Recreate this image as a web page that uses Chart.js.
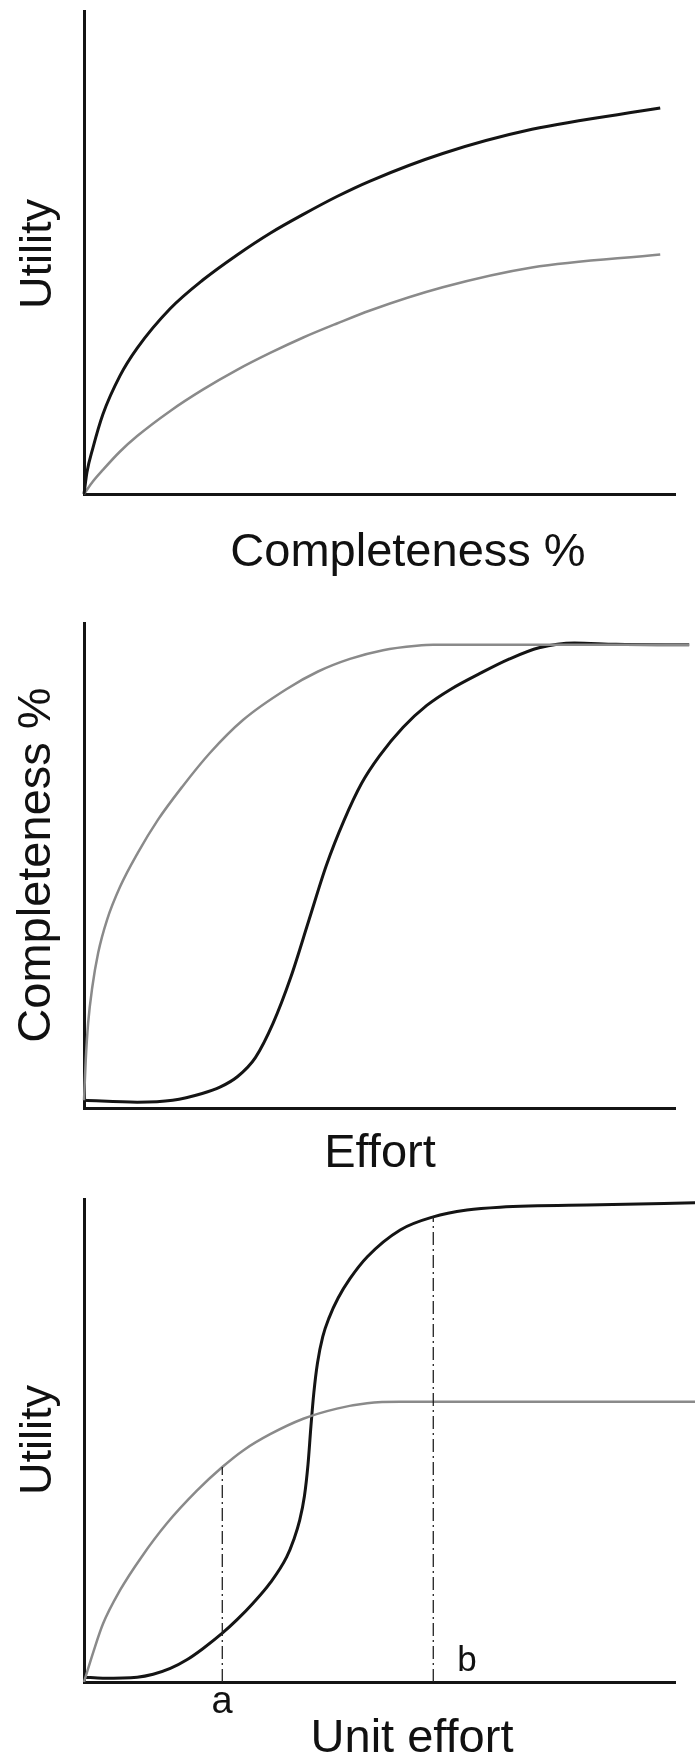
<!DOCTYPE html>
<html>
<head>
<meta charset="utf-8">
<script src="https://cdn.jsdelivr.net/npm/chart.js@4/dist/chart.umd.min.js"></script>
<style>
  html, body { margin: 0; padding: 0; background: #fff; }
  body { width: 695px; height: 1762px; position: relative; overflow: hidden; }
  canvas { position: absolute; left: 0; }
</style>
</head>
<body>
<canvas id="c1" width="695" height="590" style="top:0px"></canvas>
<canvas id="c2" width="695" height="590" style="top:590px"></canvas>
<canvas id="c3" width="695" height="582" style="top:1180px"></canvas>
<script>
// ---- Text ----
const axisTitles = ['Utility', 'Completeness %', 'Effort', 'Unit effort'];
const markerLabels = ['a', 'b'];

// ---- Panel 1: Utility vs Completeness % ----
const p1HighX = [0, 0.5, 1.5, 3.2, 6.1, 9.0, 14.6, 20.1, 25.9, 31.5, 37.1, 42.8, 48.4, 60.7, 75.8, 97.5];
const p1High  = [0, 4.5, 9.5, 16.5, 24.5, 30.2, 38.4, 44.3, 49.5, 54.0, 57.9, 61.6, 64.8, 70.5, 75.5, 79.9];
const p1LowX  = [0, 1.5, 3.2, 6.1, 9.0, 14.6, 20.1, 25.9, 31.5, 37.1, 42.8, 48.4, 60.7, 75.8, 97.5];
const p1Low   = [0, 2.6, 5.0, 8.8, 12.0, 17.2, 21.6, 25.7, 29.2, 32.4, 35.3, 38.0, 42.8, 46.9, 49.6];

// ---- Panel 2: Completeness % vs Effort ----
const p2LowX  = [0, 0.3, 0.7, 1.4, 2.4, 3.9, 6.1, 9.1, 12.5, 16.6, 21.3, 26.9, 34.3, 39.6, 45.0, 50.6, 56.3, 59.1, 102.4];
const p2Low   = [1.6, 10, 17.5, 24.9, 32.0, 38.8, 45.6, 52.6, 59.4, 66.2, 73.2, 80.0, 86.4, 90.0, 92.6, 94.4, 95.3, 95.5, 95.5];
const p2HighX = [0, 9, 15, 20, 23, 26, 29, 32, 35, 38, 41, 44, 47, 50, 54, 58, 62, 67, 72, 77, 83, 90, 102.4];
const p2High  = [1.6, 1.2, 1.6, 3.0, 4.3, 6.5, 10.4, 17.5, 27.0, 38.5, 50.0, 59.3, 67.0, 72.6, 78.5, 83.0, 86.3, 89.6, 92.6, 94.9, 95.9, 95.6, 95.5];

// ---- Panel 3: Utility vs Unit effort ----
const p3HighX = [0, 3.2, 9.0, 11.7, 14.6, 17.4, 20.1, 23.4, 25.9, 28.6, 31.5, 34.3, 35.5, 36.5, 37.3, 37.9, 38.4, 38.9, 39.5, 40.4, 41.5, 43.0, 45.0, 47.9, 53.5, 59.1, 64.8, 70.4, 87.3, 103.4];
const p3High  = [1.0, 0.8, 1.0, 1.6, 2.8, 4.6, 6.9, 10.1, 12.9, 16.3, 20.5, 25.9, 29.5, 33.5, 38.5, 45.0, 53.0, 60.0, 66.0, 71.5, 75.5, 79.5, 83.5, 88.0, 93.6, 96.3, 97.7, 98.3, 98.8, 99.2];
const p3LowX  = [0, 1.6, 3.2, 6.1, 9.8, 14.0, 19.1, 23.4, 27.0, 31.5, 37.1, 42.8, 47.9, 53.5, 103.4];
const p3Low   = [0, 6.3, 12.0, 19.0, 26.0, 32.8, 39.6, 44.5, 48.0, 51.3, 54.5, 56.6, 57.7, 58.0, 58.0];
const markA = [23.4, 44.5];   // x, top y of dashed line "a"
const markB = [59.1, 96.3];   // x, top y of dashed line "b"

// ---- helpers ----
const BLACK = '#141414';
const GRAY = '#8a8a8a';
const FONT = '"Liberation Sans", Arial, Helvetica, sans-serif';

function pts(xs, ys) { return xs.map((x, i) => ({ x: x, y: ys[i] })); }

function curve(xs, ys, color, width) {
  return {
    data: pts(xs, ys), borderColor: color, borderWidth: width,
    pointRadius: 0, cubicInterpolationMode: 'monotone', clip: false, fill: false
  };
}
function dropLine(m) {
  return {
    data: [{ x: m[0], y: 0 }, { x: m[0], y: m[1] }],
    borderColor: '#222', borderWidth: 1.3, borderDash: [13, 4, 2, 4],
    pointRadius: 0, tension: 0, clip: false, fill: false
  };
}
function textPlugin(labels) {
  return {
    id: 'txt',
    afterDraw(chart) {
      const ctx = chart.ctx;
      labels.forEach(l => {
        ctx.save();
        ctx.font = l.size + 'px ' + FONT;
        ctx.fillStyle = '#111';
        ctx.textAlign = 'center';
        ctx.textBaseline = 'alphabetic';
        ctx.translate(l.x, l.y);
        if (l.rot) ctx.rotate(-Math.PI / 2);
        ctx.fillText(l.text, 0, 0);
        ctx.restore();
      });
    }
  };
}
function axis() {
  return {
    type: 'linear', min: 0, max: 100,
    ticks: { display: false },
    grid: { display: false, drawTicks: false },
    border: { display: true, color: BLACK, width: 3 }
  };
}
function makeChart(id, datasets, padding, labels) {
  return new Chart(document.getElementById(id), {
    type: 'line',
    data: { datasets: datasets },
    options: {
      responsive: false, animation: false, events: [],
      devicePixelRatio: 1,
      layout: { padding: padding },
      plugins: { legend: { display: false }, tooltip: { enabled: false }, title: { display: false } },
      scales: { x: axis(), y: axis() }
    },
    plugins: [textPlugin(labels)]
  });
}

makeChart('c1',
  [curve(p1HighX, p1High, BLACK, 3), curve(p1LowX, p1Low, GRAY, 2.5)],
  { left: 84, top: 11, right: 20, bottom: 96 },
  [
    { text: axisTitles[0], x: 51, y: 254, size: 45, rot: true },
    { text: axisTitles[1], x: 408, y: 566, size: 47 }
  ]);

makeChart('c2',
  [curve(p2LowX, p2Low, GRAY, 2.5), curve(p2HighX, p2High, BLACK, 3)],
  { left: 84, top: 33, right: 20, bottom: 72 },
  [
    { text: axisTitles[1], x: 50, y: 275, size: 47, rot: true },
    { text: axisTitles[2], x: 380, y: 577, size: 47 }
  ]);

makeChart('c3',
  [dropLine(markA), dropLine(markB), curve(p3LowX, p3Low, GRAY, 2.5), curve(p3HighX, p3High, BLACK, 3)],
  { left: 84, top: 19, right: 20, bottom: 80 },
  [
    { text: axisTitles[0], x: 51, y: 260, size: 45, rot: true },
    { text: axisTitles[3], x: 412, y: 572, size: 47 },
    { text: markerLabels[0], x: 222, y: 533, size: 38 },
    { text: markerLabels[1], x: 467, y: 491, size: 35 }
  ]);
</script>
</body>
</html>
